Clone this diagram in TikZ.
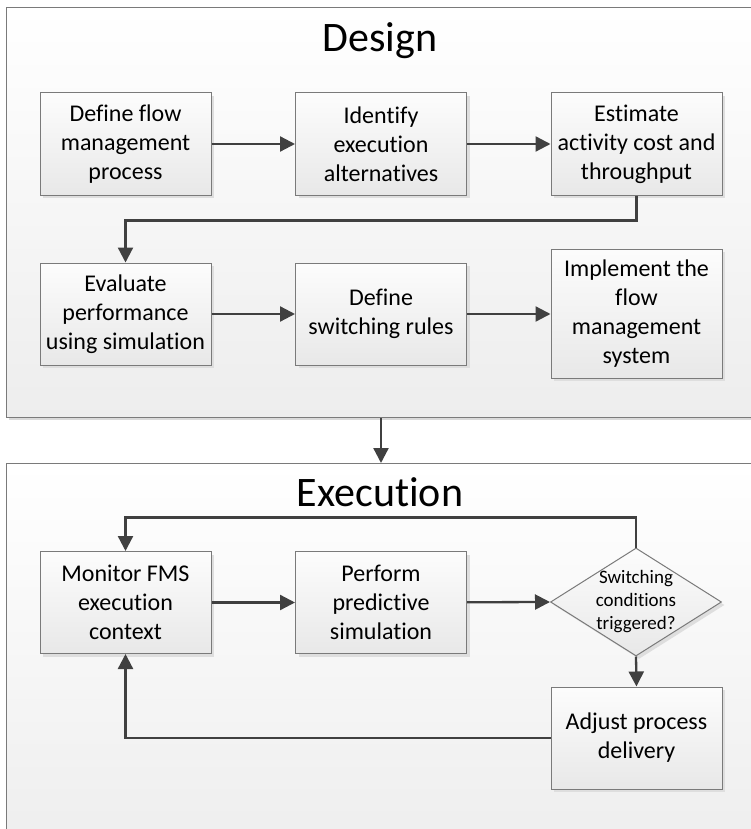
\documentclass[tikz,border=0pt]{standalone}
\usepackage{fontspec}
\setmainfont{Carlito}[Ligatures={NoCommon}]
\usetikzlibrary{arrows.meta,shapes.geometric,shadows}

\definecolor{edgegray}{HTML}{7A7A7A}
\definecolor{linegray}{HTML}{404040}

\tikzset{
  panel/.style={rectangle, draw=edgegray, line width=1.2pt,
    top color=white, bottom color=black!7, inner sep=0pt,
    drop shadow={shadow xshift=2pt, shadow yshift=-2pt, fill=black!15, opacity=1}},
  paneltitle/.style={font=\fontsize{42}{50}\selectfont, anchor=base, inner sep=0pt},
  stepbox/.style={rectangle, draw=edgegray, line width=1pt,
    top color=black!1, bottom color=black!9,
    minimum width=171pt, minimum height=102pt, inner sep=0pt, align=center,
    font=\fontsize{24}{29}\selectfont,
    drop shadow={shadow xshift=3pt, shadow yshift=-3pt, fill=black!13, opacity=1}},
  decision/.style={diamond, draw=edgegray, line width=1pt,
    top color=black!1, bottom color=black!9,
    minimum width=171pt, minimum height=108pt, inner sep=0pt,
    drop shadow={shadow xshift=3pt, shadow yshift=-3pt, fill=black!13, opacity=1}},
  flow/.style={draw=linegray, line width=2.3pt,
    -{Triangle[length=15pt, width=15pt]}},
}

\begin{document}
\begin{tikzpicture}[x=1pt, y=-1pt]
  \useasboundingbox (0,0) rectangle (751,829);
  \clip (0,0) rectangle (751,829);

  % the two phase panels (open to the right and below)
  \node[panel, minimum width=820pt, minimum height=410pt, anchor=north west]
    (design) at (6,7) {};
  \node[panel, minimum width=820pt, minimum height=400pt, anchor=north west]
    (exec) at (6,463) {};
  \node[paneltitle] (designtitle) at (380,52) {Design};
  \node[paneltitle] (exectitle) at (380,506) {Execution};

  % design phase steps
  \node[stepbox] (b1) at (125.5,144) {Define flow\\management\\process};
  \node[stepbox] (b2) at (381,144) {Identify\\execution\\alternatives};
  \node[stepbox] (b3) at (636.5,144) {Estimate\\activity cost and\\throughput};
  \node[stepbox] (b4) at (125.5,314) {Evaluate\\performance\\using simulation};
  \node[stepbox] (b5) at (381,314) {Define\\switching rules};
  \node[stepbox, minimum height=129pt] (b6) at (636.5,313.5)
    {Implement the\\flow\\management\\system};

  % execution phase steps
  \node[stepbox] (b7) at (125.5,602.5) {Monitor FMS\\execution\\context};
  \node[stepbox] (b8) at (381,602.5) {Perform\\predictive\\simulation};
  \node[decision] (dec) at (636,602) {};
  \node[align=center, inner sep=0pt, font=\fontsize{19}{23}\selectfont]
    (dectxt) at (dec.center) {Switching\\conditions\\triggered?};
  \node[stepbox] (b9) at (636.5,738) {Adjust process\\delivery};

  % design flow
  \draw[flow] (b1) -- (b2);
  \draw[flow] (b2) -- (b3);
  \draw[flow] (b3.south) -- ++(0,25) -| (b4.north);
  \draw[flow] (b4) -- (b5);
  \draw[flow] (b5) -- (b6.west |- b5.east);

  % hand-over between phases
  \draw[flow] (design.south -| b2) -- (exec.north -| b2);

  % execution loop
  \draw[flow] (b7) -- (b8);
  \draw[flow] (b8) -- (dec.west);
  \draw[flow] (dec.north) -- ++(0,-30) -| (b7.north);
  \draw[flow] (dec.south) -- (b9.north);
  \draw[flow] (b9.west) -| (b7.south);
\end{tikzpicture}
\end{document}
